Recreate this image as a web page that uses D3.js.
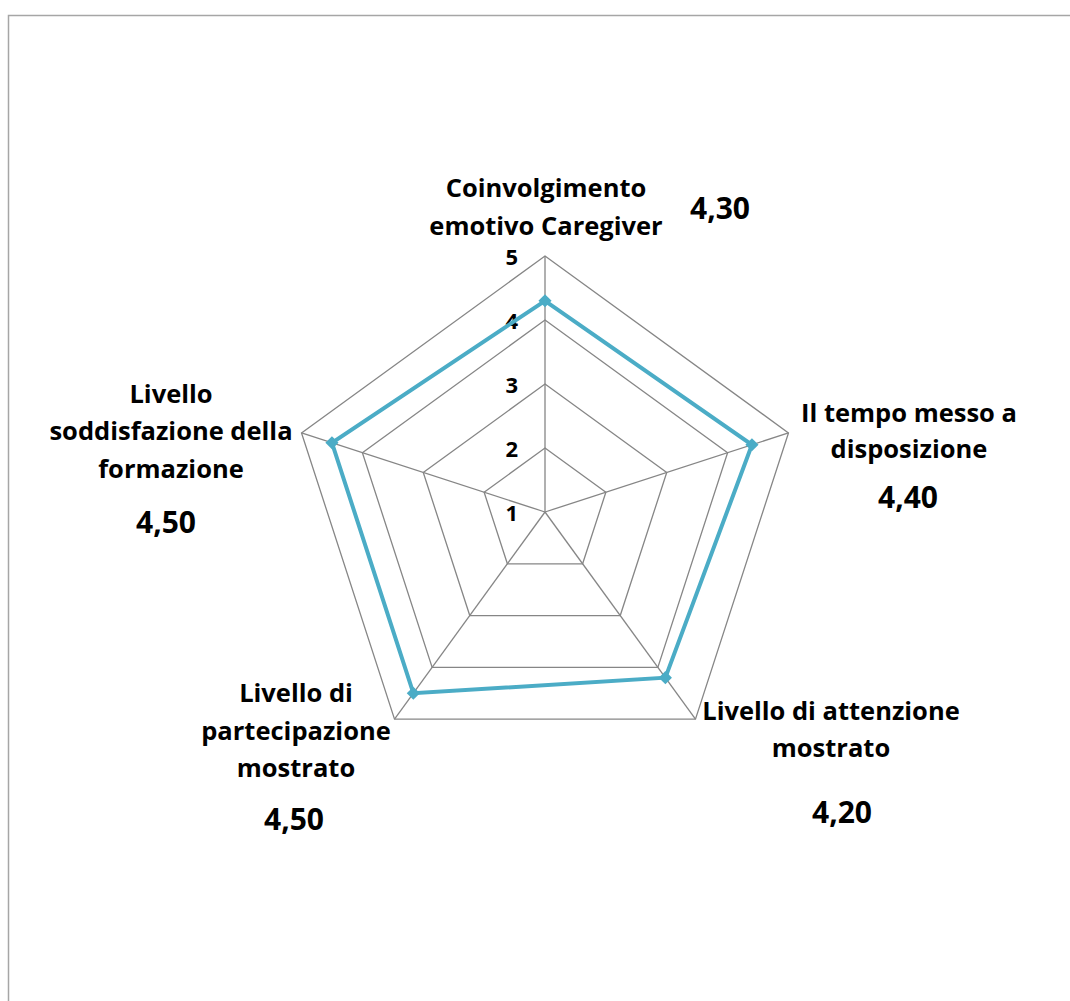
<!DOCTYPE html>
<html>
<head>
<meta charset="utf-8">
<script src="https://cdn.jsdelivr.net/npm/d3@7"></script>
<style>
  html, body { margin: 0; padding: 0; background: #fff; }
  svg text { font-family: "Open Sans", Lato, sans-serif; font-weight: bold; fill: #000; }
</style>
</head>
<body>
<svg id="chart" width="1070" height="1001"></svg>
<script>
// Axis names (each split into display lines) and the average score per axis
const categories = [
  ["Coinvolgimento", "emotivo Caregiver"],
  ["Il tempo messo a", "disposizione"],
  ["Livello di attenzione", "mostrato"],
  ["Livello di", "partecipazione", "mostrato"],
  ["Livello", "soddisfazione della", "formazione"]
];
const values = [4.30, 4.40, 4.20, 4.50, 4.50];
const valueLabels = ["4,30", "4,40", "4,20", "4,50", "4,50"];
const ticks = [1, 2, 3, 4, 5];

const svg = d3.select("#chart");

// chart frame
svg.append("rect")
  .attr("x", 8.5).attr("y", 15.5)
  .attr("width", 1100).attr("height", 1100)
  .attr("fill", "none").attr("stroke", "#a6a6a6").attr("stroke-width", 1.5);

const cx = 545, cy = 512;
const r = d3.scaleLinear().domain([1, 5]).range([0, 256]);
const angle = d3.scaleLinear().domain([0, categories.length]).range([0, 2 * Math.PI]);

const pt = (i, v) => {
  const a = angle(i);
  return [cx + r(v) * Math.sin(a), cy - r(v) * Math.cos(a)];
};

const g = svg.append("g");

// grid rings
ticks.filter(t => t > 1).forEach(t => {
  g.append("path")
    .attr("d", d3.line()(categories.map((_, i) => pt(i, t))) + "Z")
    .attr("fill", "none").attr("stroke", "#868686").attr("stroke-width", 1.3);
});

// spokes
categories.forEach((_, i) => {
  const [x, y] = pt(i, 5);
  g.append("line")
    .attr("x1", cx).attr("y1", cy).attr("x2", x).attr("y2", y)
    .attr("stroke", "#868686").attr("stroke-width", 1.3);
});

// tick labels along the top spoke
ticks.forEach(t => {
  g.append("text")
    .attr("x", cx - 27).attr("y", cy - r(t) + 9)
    .attr("text-anchor", "end")
    .attr("font-size", 22)
    .text(t);
});

// data line
const linePts = values.map((v, i) => pt(i, v));
g.append("path")
  .attr("d", d3.line()(linePts) + "Z")
  .attr("fill", "none").attr("stroke", "#4bacc6").attr("stroke-width", 4)
  .attr("stroke-linejoin", "miter");

// diamond markers
g.selectAll(".marker").data(linePts).enter().append("path")
  .attr("class", "marker")
  .attr("transform", d => `translate(${d[0]},${d[1]})`)
  .attr("d", d3.symbol(d3.symbolDiamond2, 110)())
  .attr("fill", "#4bacc6");

// category labels and value labels
const labelPos = [
  { x: 546, y: [197, 235], vx: 720, vy: 219 },
  { x: 909, y: [422, 458], vx: 908, vy: 508 },
  { x: 831, y: [720, 757], vx: 842, vy: 823 },
  { x: 296, y: [702, 740, 777], vx: 294, vy: 830 },
  { x: 171, y: [403, 440, 478], vx: 166, vy: 533 }
];

categories.forEach((lines, i) => {
  const p = labelPos[i];
  lines.forEach((ln, j) => {
    svg.append("text")
      .attr("x", p.x).attr("y", p.y[j])
      .attr("text-anchor", "middle")
      .attr("font-size", 25.5)
      .text(ln);
  });
  svg.append("text")
    .attr("x", p.vx).attr("y", p.vy)
    .attr("text-anchor", "middle")
    .attr("font-size", 30)
    .text(valueLabels[i]);
});
</script>
</body>
</html>
